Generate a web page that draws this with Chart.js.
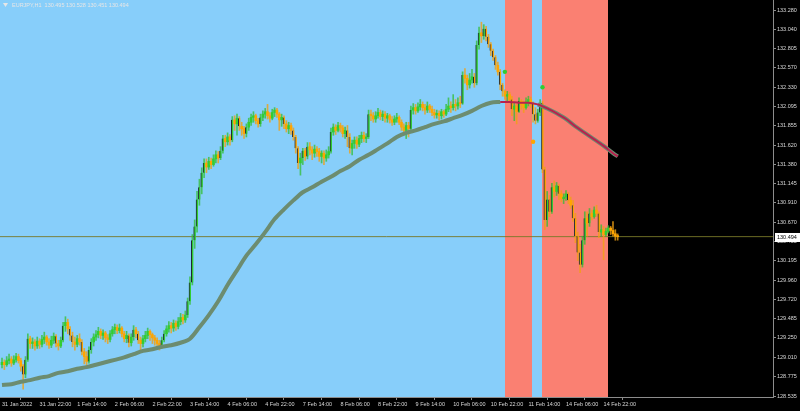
<!DOCTYPE html>
<html>
<head>
<meta charset="utf-8">
<script src="https://cdn.jsdelivr.net/npm/chart.js@4.4.1/dist/chart.umd.min.js"></script>
<style>
  html, body { margin: 0; padding: 0; background: #000; }
  canvas { display: block; }
</style>
</head>
<body>
<canvas id="chart" width="800" height="411"></canvas>
<script>
// EURJPY H1 - hourly bars, index 0 = 31 Jan 06:00
const symbolTitle = 'EURJPY,H1';
const firstOpen = 128.92;

const closes = [
  128.95,128.92,128.97,128.99,128.94,128.98,129.02,128.97,128.90,128.80,
  128.98,129.24,129.18,129.20,129.15,129.21,129.17,129.23,129.26,129.20,
  129.16,129.22,129.27,129.18,129.15,129.22,129.40,129.44,129.36,129.28,
  129.20,129.17,129.24,129.20,129.08,129.02,128.96,129.10,129.20,129.26,
  129.29,129.33,129.28,129.31,129.25,129.23,129.30,129.35,129.38,129.34,
  129.37,129.30,129.24,129.28,129.19,129.26,129.35,129.30,129.22,129.18,
  129.24,129.28,129.33,129.29,129.25,129.22,129.18,129.14,129.22,129.30,
  129.36,129.40,129.37,129.43,129.39,129.45,129.50,129.47,129.53,129.70,
  129.93,130.45,130.62,130.95,131.10,131.28,131.40,131.35,131.42,131.38,
  131.45,131.50,131.46,131.55,131.70,131.66,131.72,131.68,131.93,131.88,
  131.95,131.85,131.82,131.76,131.84,131.90,131.96,131.98,131.92,131.88,
  131.96,132.00,132.03,131.98,131.95,132.02,132.05,132.00,131.93,131.96,
  131.88,131.82,131.86,131.80,131.72,131.58,131.40,131.46,131.55,131.48,
  131.60,131.56,131.52,131.57,131.54,131.48,131.52,131.46,131.50,131.54,
  131.78,131.84,131.80,131.86,131.83,131.76,131.80,131.72,131.58,131.64,
  131.68,131.63,131.70,131.74,131.70,131.72,132.00,131.98,131.94,131.98,
  132.02,131.97,132.00,131.95,131.98,131.93,131.90,131.94,131.96,131.90,
  131.84,131.80,131.86,131.82,132.05,132.08,132.04,132.09,132.12,132.08,
  132.05,132.10,132.06,132.02,131.99,132.01,131.98,132.03,132.00,132.06,
  132.10,132.08,132.12,132.10,132.14,132.13,132.48,132.44,132.36,132.42,
  132.46,132.38,132.85,133.00,132.96,133.05,132.95,132.86,132.78,132.70,
  132.60,132.52,132.36,132.28,132.22,132.24,132.18,132.06,132.10,132.03,
  132.16,132.12,132.08,132.15,132.18,132.14,132.00,131.92,132.02,132.14,
  131.32,130.70,130.95,130.80,131.10,131.05,131.12,131.02,130.96,130.98,
  131.02,130.94,130.88,130.72,130.50,130.30,130.15,130.45,130.72,130.66,
  130.78,130.74,130.82,130.78,130.55,130.58,130.52,130.56,130.60,130.57,
  130.53,130.50,130.494
];

const highs = [
  129.00,128.98,129.02,129.05,129.02,129.03,129.06,129.05,129.00,128.92,
  129.02,129.30,129.27,129.25,129.23,129.26,129.24,129.28,129.32,129.28,
  129.24,129.27,129.31,129.29,129.22,129.26,129.44,129.51,129.48,129.39,
  129.32,129.26,129.28,129.30,129.23,129.12,129.08,129.14,129.24,129.30,
  129.34,129.38,129.36,129.35,129.33,129.29,129.34,129.39,129.42,129.41,
  129.42,129.39,129.33,129.33,129.30,129.30,129.40,129.38,129.33,129.26,
  129.28,129.33,129.37,129.35,129.31,129.28,129.25,129.22,129.26,129.34,
  129.40,129.45,129.44,129.47,129.46,129.50,129.55,129.54,129.58,129.74,
  130.00,130.52,130.70,131.05,131.20,131.34,131.45,131.45,131.47,131.46,
  131.50,131.55,131.54,131.60,131.74,131.74,131.77,131.75,131.97,131.98,
  132.00,131.97,131.90,131.85,131.88,131.95,132.00,132.03,132.00,131.95,
  132.00,132.04,132.07,132.12,132.02,132.06,132.08,132.07,132.02,132.00,
  131.98,131.92,131.90,131.89,131.83,131.74,131.60,131.52,131.58,131.58,
  131.65,131.65,131.60,131.62,131.60,131.58,131.55,131.55,131.56,131.60,
  131.83,131.88,131.87,131.90,131.89,131.86,131.84,131.86,131.76,131.68,
  131.72,131.72,131.74,131.78,131.78,131.76,132.05,132.05,132.02,132.03,
  132.07,132.05,132.04,132.03,132.01,132.00,131.97,131.98,132.01,131.98,
  131.93,131.88,131.90,131.90,132.10,132.13,132.12,132.14,132.18,132.15,
  132.12,132.15,132.12,132.10,132.06,132.05,132.04,132.06,132.05,132.12,
  132.20,132.15,132.24,132.18,132.20,132.22,132.52,132.56,132.48,132.50,
  132.55,132.50,132.90,133.07,133.13,133.10,133.08,132.98,132.88,132.80,
  132.72,132.64,132.55,132.38,132.30,132.28,132.27,132.22,132.14,132.12,
  132.20,132.18,132.16,132.20,132.22,132.21,132.15,132.08,132.06,132.18,
  132.16,131.35,131.05,131.00,131.15,131.18,131.16,131.14,131.06,131.02,
  131.06,131.04,130.98,130.94,130.78,130.55,130.40,130.50,130.80,130.80,
  130.84,130.82,130.86,130.88,130.80,130.64,130.62,130.60,130.63,130.62,
  130.68,130.58,130.528
];

const lows = [
  128.88,128.86,128.90,128.93,128.90,128.92,128.95,128.94,128.84,128.62,
  128.76,128.96,129.12,129.12,129.10,129.12,129.12,129.14,129.18,129.16,
  129.12,129.13,129.18,129.14,129.10,129.13,129.20,129.33,129.30,129.22,
  129.14,129.10,129.14,129.16,129.04,128.93,128.90,128.94,129.06,129.15,
  129.22,129.25,129.24,129.23,129.20,129.18,129.20,129.27,129.30,129.30,
  129.31,129.26,129.20,129.19,129.14,129.15,129.22,129.25,129.18,129.10,
  129.14,129.20,129.24,129.22,129.18,129.16,129.12,129.10,129.12,129.20,
  129.27,129.32,129.31,129.33,129.34,129.36,129.41,129.42,129.44,129.50,
  129.66,129.90,130.35,130.55,130.88,131.02,131.22,131.28,131.32,131.33,
  131.36,131.40,131.40,131.44,131.52,131.60,131.62,131.62,131.66,131.80,
  131.74,131.80,131.74,131.70,131.72,131.80,131.86,131.90,131.88,131.84,
  131.85,131.92,131.95,131.94,131.90,131.93,131.97,131.96,131.80,131.85,
  131.82,131.78,131.76,131.75,131.68,131.52,131.33,131.25,131.38,131.43,
  131.45,131.50,131.44,131.47,131.48,131.42,131.40,131.38,131.42,131.46,
  131.52,131.74,131.75,131.78,131.78,131.72,131.70,131.60,131.52,131.50,
  131.58,131.58,131.60,131.65,131.66,131.65,131.70,131.92,131.90,131.90,
  131.95,131.93,131.92,131.90,131.90,131.89,131.86,131.87,131.90,131.87,
  131.80,131.74,131.70,131.72,131.80,132.00,132.00,132.02,132.05,132.04,
  132.00,132.02,132.02,131.98,131.95,131.95,131.93,131.94,131.96,131.98,
  132.03,132.02,132.05,132.04,132.06,132.08,132.12,132.38,132.30,132.32,
  132.38,132.33,132.36,132.80,132.88,132.92,132.90,132.82,132.72,132.66,
  132.55,132.48,132.30,132.22,132.18,132.16,132.14,131.98,131.92,131.88,
  132.02,132.06,132.02,132.06,132.10,132.08,131.90,131.88,131.90,131.98,
  131.28,130.58,130.62,130.74,130.78,130.98,131.00,130.95,130.92,130.90,
  130.94,130.90,130.84,130.68,130.42,130.20,130.05,130.12,130.40,130.50,
  130.62,130.70,130.72,130.74,130.48,130.50,130.21,130.50,130.54,130.52,
  130.50,130.45,130.451
];

// moving average, read every 4 bars
const maBars = [0,4,8,12,16,20,24,28,32,36,40,44,48,52,56,60,64,68,72,76,80,84,88,92,96,
  100,104,108,112,116,120,124,128,132,136,140,144,148,152,156,160,164,168,172,176,180,
  184,188,192,196,200,204,208,212,216,220,224,228,232,236,240,244,248,252,256,260,262];
const maValues = [128.67,128.68,128.71,128.73,128.76,128.78,128.82,128.84,128.87,128.89,
  128.92,128.95,128.98,129.01,129.05,129.09,129.11,129.14,129.16,129.19,129.24,129.38,
  129.53,129.70,129.90,130.08,130.26,130.40,130.55,130.71,130.83,130.94,131.04,131.10,
  131.17,131.23,131.30,131.36,131.44,131.50,131.57,131.64,131.72,131.77,131.80,131.84,
  131.88,131.91,131.95,131.99,132.04,132.10,132.14,132.15,132.15,132.14,132.14,132.12,
  132.07,132.01,131.94,131.85,131.77,131.69,131.61,131.52,131.48];
// crimson from bar 212; thin-only stretch between 212 and 228
const maRedFrom = 212;
const maThinTo = 228;

// signal dots
const signalBars = [214, 226, 230];
const signalPrices = [132.52, 131.66, 132.33];
const signalKinds = ['buy', 'sell', 'buy'];

// session zones (bar units)
const zoneStarts = [-5, 214, 225.5, 229.8];
const zoneEnds = [214, 225.5, 229.8, 257.9];
const zoneKinds = ['calm', 'alert', 'calm', 'alert'];

const xTickBars = [0,16,32,48,64,80,96,112,128,144,160,176,192,208,224,240,256];
const xTickLabels = ['31 Jan 2022','31 Jan 22:00','1 Feb 14:00','2 Feb 06:00','2 Feb 22:00',
  '3 Feb 14:00','4 Feb 06:00','4 Feb 22:00','7 Feb 14:00','8 Feb 06:00','8 Feb 22:00',
  '9 Feb 14:00','10 Feb 06:00','10 Feb 22:00','11 Feb 14:00','14 Feb 06:00','14 Feb 22:00'];
const yTickValues = [133.280,133.040,132.805,132.570,132.330,132.095,131.855,131.620,131.380,
  131.145,130.910,130.670,130.435,130.195,129.960,129.720,129.485,129.250,129.010,128.775,128.535];

const opens = closes.map((c, i) => (i === 0 ? firstOpen : closes[i - 1]));
const lastBar = closes.length - 1;
const lastPrice = closes[lastBar];

const UP = '#32cd32';
const DOWN = '#ffa500';
const DARK = '#1c2833';
const zoneColors = { calm: '#87cefa', alert: '#fa8072' };
const FONT = { family: 'Liberation Sans', size: 5.5 };

const isUp = (i) => closes[i] >= opens[i];

const wickData = closes.map((c, i) => ({ x: i, y: [lows[i], highs[i]] }));
const bodyData = closes.map((c, i) => ({ x: i, y: [opens[i], c] }));
const maPoints = maBars.map((b, i) => ({ x: b, y: maValues[i] }));
const maGray = maPoints.map(p => (p.x > maRedFrom && p.x < maThinTo ? { x: p.x, y: null } : p));

const zonesPlugin = {
  id: 'zones',
  beforeDatasetsDraw(chart) {
    const { ctx, chartArea, scales } = chart;
    ctx.save();
    zoneStarts.forEach((s, k) => {
      const x1 = Math.max(chartArea.left, Math.round(scales.x.getPixelForValue(s)));
      const x2 = Math.min(chartArea.right, Math.round(scales.x.getPixelForValue(zoneEnds[k])));
      ctx.fillStyle = zoneColors[zoneKinds[k]];
      ctx.fillRect(x1, chartArea.top, x2 - x1, chartArea.bottom - chartArea.top);
    });
    ctx.restore();
  }
};

const labelsPlugin = {
  id: 'labels',
  afterDraw(chart) {
    const { ctx, chartArea, scales } = chart;
    ctx.save();
    // title line
    ctx.fillStyle = '#e6e6e6';
    ctx.beginPath();
    ctx.moveTo(3, 3); ctx.lineTo(8, 3); ctx.lineTo(5.5, 7);
    ctx.closePath();
    ctx.fill();
    ctx.font = '5.5px "Liberation Sans"';
    ctx.textBaseline = 'middle';
    const t = symbolTitle + '  ' + [opens[lastBar] - 0.005, highs[lastBar], lows[lastBar], lastPrice]
      .map(v => v.toFixed(3)).join(' ');
    ctx.fillText(t, 12, 5.5);
    // last price box
    const y = Math.round(scales.y.getPixelForValue(lastPrice));
    ctx.fillStyle = '#ffffff';
    ctx.fillRect(chartArea.right + 2, y - 4, 25, 9);
    ctx.fillStyle = '#000000';
    ctx.fillText(lastPrice.toFixed(3), chartArea.right + 4, y + 0.5);
    ctx.restore();
  }
};

new Chart(document.getElementById('chart').getContext('2d'), {
  type: 'bar',
  data: {
    datasets: [
      {
        type: 'line',
        data: signalBars.map((b, i) => ({ x: b, y: signalPrices[i] })),
        showLine: false,
        pointRadius: 2.2,
        pointBorderWidth: 0,
        pointBackgroundColor: signalKinds.map(k => (k === 'buy' ? UP : DOWN)),
        order: 0
      },
      {
        type: 'line',
        data: maPoints.filter(p => p.x >= maRedFrom),
        borderColor: '#b8224e',
        borderWidth: 2,
        pointRadius: 0,
        tension: 0.3,
        order: 1
      },
      {
        type: 'line',
        data: maGray,
        spanGaps: false,
        borderColor: '#6c8c70',
        borderWidth: 4,
        pointRadius: 0,
        tension: 0.3,
        order: 2
      },
      {
        data: bodyData,
        grouped: false,
        barThickness: 2,
        minBarLength: 1,
        backgroundColor: bodyData.map((d, i) => (isUp(i) ? UP : DOWN)),
        borderColor: DARK,
        borderSkipped: false,
        borderWidth: bodyData.map((d, i) =>
          Math.abs(closes[i] - opens[i]) > 0.08 ? { left: 1, right: 0, top: 0, bottom: 0 } : 0),
        order: 3
      },
      {
        data: wickData,
        grouped: false,
        barThickness: 1,
        backgroundColor: wickData.map((d, i) => (isUp(i) ? 'rgba(50,190,50,0.75)' : 'rgba(240,160,20,0.8)')),
        order: 4
      },
      {
        type: 'line',
        data: [{ x: -5, y: lastPrice }, { x: 400, y: lastPrice }],
        borderColor: 'rgba(120,120,40,0.9)',
        borderWidth: 1,
        pointRadius: 0,
        order: 5
      }
    ]
  },
  options: {
    responsive: false,
    animation: false,
    devicePixelRatio: 1,
    layout: { padding: 0, autoPadding: false },
    plugins: { legend: { display: false }, tooltip: { enabled: false } },
    scales: {
      x: {
        type: 'linear',
        offset: false,
        min: -0.851,
        max: 328.09,
        afterBuildTicks: (scale) => { scale.ticks = xTickBars.map(v => ({ value: v })); },
        afterFit: (scale) => { scale.height = 14; scale.paddingLeft = 0; scale.paddingRight = 0; },
        grid: { drawOnChartArea: false, drawTicks: true, tickLength: 3, color: '#8c8c8c' },
        border: { display: true, color: '#8c8c8c' },
        ticks: {
          autoSkip: false,
          maxRotation: 0,
          align: 'start',
          padding: 1,
          color: '#d8d8d8',
          font: FONT,
          callback: (v, i) => xTickLabels[i]
        }
      },
      y: {
        position: 'right',
        min: 128.523,
        max: 133.403,
        afterBuildTicks: (scale) => { scale.ticks = yTickValues.map(v => ({ value: v })); },
        afterFit: (scale) => { scale.width = 27; scale.paddingTop = 0; scale.paddingBottom = 0; },
        grid: { drawOnChartArea: false, drawTicks: true, tickLength: 3, color: '#8c8c8c' },
        border: { display: true, color: '#8c8c8c' },
        ticks: {
          padding: 1,
          crossAlign: 'near',
          color: '#d8d8d8',
          font: FONT,
          callback: (v) => Number(v).toFixed(3)
        }
      }
    }
  },
  plugins: [zonesPlugin, labelsPlugin]
});
</script>
</body>
</html>
